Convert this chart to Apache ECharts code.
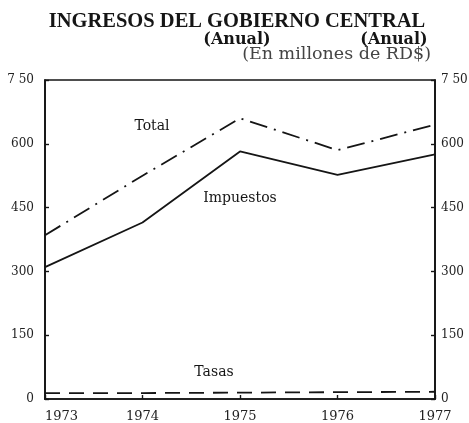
<!DOCTYPE html>
<html>
<head>
<meta charset="utf-8">
<script src="https://cdn.jsdelivr.net/npm/echarts@6/dist/echarts.min.js"></script>
<style>
  html, body { margin: 0; padding: 0; background: #fff; }
  #chart { width: 469px; height: 423px; }
</style>
</head>
<body>
<div id="chart"></div>
<script>
// Central government revenue, millions of RD$
const years = ['1973', '1974', '1975', '1976', '1977'];
const total = [385, 525, 660, 585, 645];
const impuestos = [310, 415, 582, 527, 575];
const tasas = [14, 14, 15, 16, 17];
const yTicks = [0, 150, 300, 450, 600, 750];
const yTickLabels = ['0', '150', '300', '450', '600', '7 50'];

const ink = '#151515';
const serif = '"Liberation Serif", "DejaVu Serif", serif';
const wideSerif = '"DejaVu Serif", "Liberation Serif", serif';

function tickLabel(v) {
  const i = yTicks.indexOf(v);
  return i >= 0 ? yTickLabels[i] : '';
}

const chart = echarts.init(document.getElementById('chart'), null, { renderer: 'canvas' });

const yAxisBase = {
  type: 'value',
  min: 0,
  max: 750,
  interval: 150,
  splitLine: { show: false },
  axisLine: { show: true, lineStyle: { color: ink, width: 1.7 } },
  axisTick: { show: true, inside: true, length: 4, lineStyle: { color: ink, width: 1.4 } },
  axisLabel: { fontFamily: wideSerif, fontSize: 12, color: '#222', formatter: tickLabel }
};

chart.setOption({
  animation: false,
  backgroundColor: '#fff',
  grid: {
    left: 45, right: 34, top: 80, bottom: 24,
    outerBoundsMode: 'none',
    containLabel: false,
    show: true, borderColor: ink, borderWidth: 1.7
  },
  xAxis: {
    type: 'category',
    data: years,
    boundaryGap: false,
    axisLine: { show: true, lineStyle: { color: ink, width: 1.7 } },
    axisTick: { show: true, inside: true, length: 4, lineStyle: { color: ink, width: 1.4 } },
    axisLabel: { fontFamily: wideSerif, fontSize: 13, color: '#222', margin: 11, alignMinLabel: 'left' }
  },
  yAxis: [
    Object.assign({}, yAxisBase, { position: 'left', axisLabel: Object.assign({}, yAxisBase.axisLabel, { margin: 11 }) }),
    Object.assign({}, yAxisBase, { position: 'right', axisLabel: Object.assign({}, yAxisBase.axisLabel, { margin: 6 }) })
  ],
  series: [
    {
      name: 'Total', type: 'line', data: total, symbol: 'none',
      lineStyle: { color: ink, width: 1.8, type: [18, 7, 2, 7] }
    },
    {
      name: 'Impuestos', type: 'line', data: impuestos, symbol: 'none',
      lineStyle: { color: ink, width: 1.8, type: 'solid' }
    },
    {
      name: 'Tasas', type: 'line', data: tasas, symbol: 'none',
      lineStyle: { color: ink, width: 1.8, type: [15, 9] }
    }
  ],
  graphic: [
    { type: 'text', x: 237, y: 11,
      style: { text: 'INGRESOS DEL GOBIERNO CENTRAL', font: 'bold 20.5px ' + serif, fill: ink, align: 'center' } },
    { type: 'text', x: 237, y: 32,
      style: { text: '(Anual)', font: 'bold 16px ' + wideSerif, fill: ink, align: 'center' } },
    { type: 'text', x: 394, y: 32,
      style: { text: '(Anual)', font: 'bold 16px ' + wideSerif, fill: ink, align: 'center' } },
    { type: 'text', x: 431, y: 45,
      style: { text: '(En millones de RD$)', font: '17.5px ' + wideSerif, fill: '#444', align: 'right' } },
    { type: 'text', x: 152, y: 119,
      style: { text: 'Total', font: '14px ' + wideSerif, fill: ink, align: 'center' } },
    { type: 'text', x: 240, y: 191,
      style: { text: 'Impuestos', font: '14px ' + wideSerif, fill: ink, align: 'center' } },
    { type: 'text', x: 214, y: 365,
      style: { text: 'Tasas', font: '14px ' + wideSerif, fill: ink, align: 'center' } }
  ]
});
</script>
</body>
</html>
